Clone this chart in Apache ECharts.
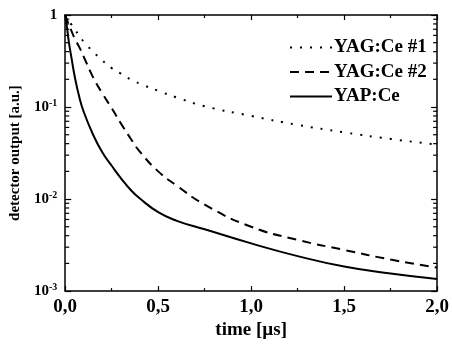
<!DOCTYPE html>
<html>
<head>
<meta charset="utf-8">
<script src="https://cdn.jsdelivr.net/npm/echarts@6/dist/echarts.min.js"></script>
<style>
	html, body { margin: 0; padding: 0; background: #fff; }
	#chart { width: 452px; height: 345px; }
</style>
</head>
<body>
<div id="chart"></div>
<script>
// time axis [µs]
var times = [0, 0.01, 0.02, 0.035, 0.05, 0.075, 0.1, 0.15, 0.2, 0.25, 0.3, 0.35, 0.4, 0.5, 0.6, 0.75, 1.0, 1.25, 1.5, 1.75, 2.0];
// detector output [a.u.]
var yagCe1 = [1, 0.93, 0.86, 0.78, 0.70, 0.60, 0.51, 0.40, 0.32, 0.265, 0.23, 0.20, 0.18, 0.15, 0.127, 0.102, 0.080, 0.064, 0.053, 0.045, 0.039];
var yagCe2 = [1, 0.88, 0.78, 0.66, 0.56, 0.45, 0.35, 0.21, 0.14, 0.097, 0.066, 0.046, 0.033, 0.020, 0.0140, 0.0087, 0.0050, 0.0036, 0.0028, 0.0022, 0.0018];
var yapCe = [1, 0.72, 0.50, 0.33, 0.22, 0.13, 0.088, 0.050, 0.032, 0.023, 0.0168, 0.0127, 0.0102, 0.0072, 0.0058, 0.0047, 0.0033, 0.0024, 0.00185, 0.00155, 0.00135];
var seriesNames = ['YAG:Ce #1', 'YAG:Ce #2', 'YAP:Ce'];
// minor ticks of the log axis (2..9 x 10^n)
var logMinorTicks = [];
[0.001, 0.01, 0.1].forEach(function(d) {
	for (var k = 2; k <= 9; k++) logMinorTicks.push(+(d * k).toPrecision(3));
});

(function() {
	var myChart = echarts.init(document.getElementById('chart'));
	var font = '"Liberation Serif", "Times New Roman", serif';

	function pairs(vals) {
		return times.map(function(t, i) { return [t, vals[i]]; });
	}

	var option = {
		animation: false,
		grid: { left: 63, right: 13, top: 15, bottom: 53 },
		legend: {
			left: 284,
			top: 33,
			orient: 'vertical',
			itemWidth: 42,
			itemHeight: 14,
			itemGap: 5.5,
			itemStyle: { opacity: 0 },
			textStyle: { fontFamily: font, fontSize: 19, fontWeight: 'bold', color: '#000', padding: [0, 0, 0, -3] },
			data: seriesNames
		},
		xAxis: [{
			type: 'value',
			min: 0, max: 2, interval: 0.5,
			name: 'time [µs]',
			nameLocation: 'middle',
			nameGap: 24,
			nameTextStyle: { fontFamily: font, fontSize: 19, fontWeight: 'bold', color: '#000' },
			axisLine: { onZero: false, lineStyle: { color: '#000', width: 1.5 } },
			axisTick: { inside: true, length: 5, lineStyle: { color: '#000', width: 1.2 } },
			minorTick: { show: true, splitNumber: 2, length: 3, lineStyle: { color: '#000', width: 1.2 } },
			splitLine: { show: false },
			axisLabel: {
				margin: 6,
				fontFamily: font, fontSize: 19, fontWeight: 'bold', color: '#000',
				formatter: function(v) { return v.toFixed(1).replace('.', ','); }
			}
		}, {
			type: 'value',
			position: 'top',
			min: 0, max: 2, interval: 0.5,
			axisLine: { onZero: false, lineStyle: { color: '#000', width: 1.5 } },
			axisTick: { inside: true, length: 5, lineStyle: { color: '#000', width: 1.2 } },
			minorTick: { show: true, splitNumber: 2, length: 3, lineStyle: { color: '#000', width: 1.2 } },
			splitLine: { show: false },
			axisLabel: { show: false }
		}],
		yAxis: [{
			type: 'log',
			logBase: 10,
			min: 0.001, max: 1,
			name: 'detector output [a.u.]',
			nameLocation: 'middle',
			nameGap: 33,
			nameTextStyle: { fontFamily: font, fontSize: 15, fontWeight: 'bold', color: '#000' },
			axisLine: { onZero: false, lineStyle: { color: '#000', width: 1.5 } },
			axisTick: { inside: true, length: 6, lineStyle: { color: '#000', width: 1.2 } },
			splitLine: { show: false },
			axisLabel: {
				margin: 8,
				fontFamily: font, fontSize: 15, fontWeight: 'bold', color: '#000',
				formatter: function(v) {
					var e = Math.round(Math.log10(v));
					if (e === 0) return '{n|1}';
					return '{n|10}{s|' + e + '}';
				},
				rich: {
					n: { fontFamily: font, fontSize: 15, fontWeight: 'bold', color: '#000' },
					s: { fontFamily: font, fontSize: 10, fontWeight: 'bold', color: '#000', verticalAlign: 'top', padding: [0, 0, 8, 0] }
				}
			}
		}, {
			type: 'log',
			logBase: 10,
			min: 0.001, max: 1,
			position: 'right',
			axisLine: { onZero: false, lineStyle: { color: '#000', width: 1.5 } },
			axisTick: { inside: true, length: 6, lineStyle: { color: '#000', width: 1.2 } },
			splitLine: { show: false },
			axisLabel: { show: false }
		}],
		series: [{
			name: seriesNames[0],
			type: 'line',
			data: pairs(yagCe1),
			smooth: 0.5,
			symbol: 'none',
			lineStyle: { color: '#000', width: 2, type: [2, 8], cap: 'butt' },
			itemStyle: { color: '#000' }
		}, {
			name: seriesNames[1],
			type: 'line',
			data: pairs(yagCe2),
			smooth: 0.5,
			symbol: 'none',
			lineStyle: { color: '#000', width: 2, type: [9, 6] },
			itemStyle: { color: '#000' }
		}, {
			name: seriesNames[2],
			type: 'line',
			data: pairs(yapCe),
			smooth: 0.5,
			symbol: 'none',
			lineStyle: { color: '#000', width: 2 },
			itemStyle: { color: '#000' }
		}, {
			// minor ticks on left and right edges of the log axis
			type: 'custom',
			silent: true,
			clip: false,
			z: 5,
			data: logMinorTicks.map(function(v) { return [0, v]; }),
			renderItem: function(params, api) {
				var v = api.value(1);
				var l = api.coord([0, v]);
				var r = api.coord([2, v]);
				var st = { stroke: '#000', lineWidth: 1.2 };
				return {
					type: 'group',
					children: [
						{ type: 'line', shape: { x1: l[0], y1: l[1], x2: l[0] + 4, y2: l[1] }, style: st },
						{ type: 'line', shape: { x1: r[0], y1: r[1], x2: r[0] - 4, y2: r[1] }, style: st }
					]
				};
			}
		}]
	};
	myChart.setOption(option);
	window.addEventListener("resize", function() {
		myChart.resize();
	});
})();
</script>
</body>
</html>
